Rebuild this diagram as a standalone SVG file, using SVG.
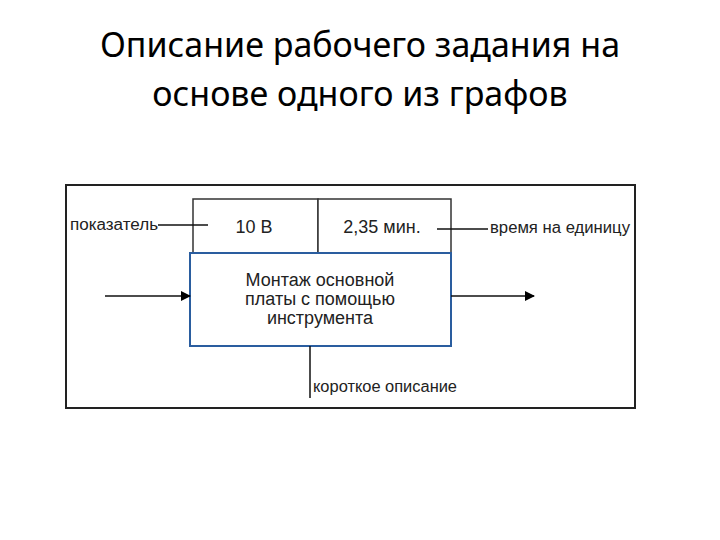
<svg xmlns="http://www.w3.org/2000/svg" width="720" height="540" viewBox="0 0 720 540">
<style>
.t{font-family:"Noto Sans","DejaVu Sans",sans-serif;font-size:34px;fill:#000;text-anchor:middle}
.s{font-family:"Liberation Sans",Arial,sans-serif;font-size:16px;fill:#222}
.b{font-family:"Liberation Sans",Arial,sans-serif;font-size:18px;fill:#222;text-anchor:middle}
.ln{stroke:#111;stroke-width:1.5;fill:none}
</style>
<defs><marker id="a" markerWidth="10" markerHeight="10" refX="9" refY="5" orient="auto" markerUnits="userSpaceOnUse"><path d="M0,0L10,5L0,10z" fill="#000"/></marker></defs>
<text class="t" x="360" y="57">Описание рабочего задания на</text>
<text class="t" x="360" y="106">основе одного из графов</text>
<rect x="66" y="185" width="569" height="223" fill="#fff" stroke="#222" stroke-width="2"/>
<g id="cell1"><rect x="193" y="199" width="125" height="54" fill="#fff" stroke="#333" stroke-width="1.5"/><text class="b" x="254" y="233">10 В</text></g>
<g id="cell2"><rect x="318" y="199" width="133" height="54" fill="#fff" stroke="#333" stroke-width="1.5"/><text class="b" x="382" y="233">2,35 мин.</text></g>
<g id="main"><rect x="190" y="253" width="261" height="93" fill="#fff" stroke="#2a5d9f" stroke-width="2"/>
<text class="b" x="320" y="286">Монтаж основной</text>
<text class="b" x="320" y="305">платы с помощью</text>
<text class="b" x="320" y="324">инструмента</text></g>
<g id="labels"><text class="s" x="70" y="230" textLength="88" lengthAdjust="spacingAndGlyphs">показатель</text><text class="s" x="490" y="233" textLength="140" lengthAdjust="spacingAndGlyphs">время на единицу</text><text class="s" x="313" y="392" textLength="144" lengthAdjust="spacingAndGlyphs">короткое описание</text></g>
<g id="connectors">
<line class="ln" x1="158" y1="225" x2="208" y2="225"/>
<line class="ln" x1="437" y1="229" x2="488" y2="229"/>
<line class="ln" x1="105" y1="296" x2="190" y2="296" marker-end="url(#a)"/>
<line class="ln" x1="451" y1="296" x2="534" y2="296" marker-end="url(#a)"/>
<line class="ln" x1="310" y1="346" x2="310" y2="398"/>
</g>
</svg>
